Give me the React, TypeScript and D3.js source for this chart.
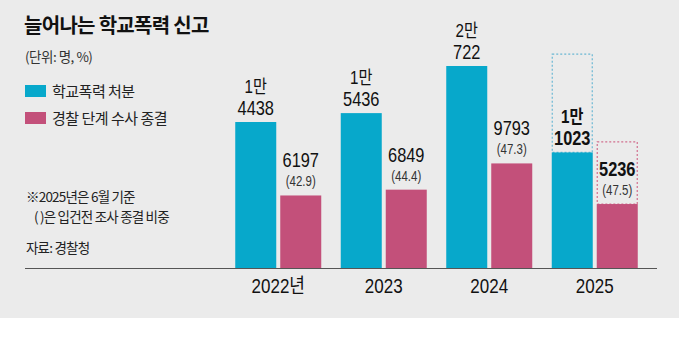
import React from "react";
import * as d3 from "d3";

const years = ["2022년", "2023", "2024", "2025"];
const manLabels = ["1만", "1만", "2만", "1만"];
const restLabels = ["4438", "5436", "722", "1023"];
const disposals = [14438, 15436, 20722, 11023];
const closures = [6197, 6849, 9793, 5236];
const closureLabels = ["6197", "6849", "9793", "5236"];
const ratios = ["(42.9)", "(44.4)", "(47.3)", "(47.5)"];
const projDisposal = 22046;
const projClosure = 12200;

const W = 681;
const H = 351;
const TEAL = "#07a8cb";
const PINK = "#c3507a";
const FONT = "'Noto Sans CJK KR', 'Noto Sans', sans-serif";
const NUMFONT = "'Liberation Sans', 'Noto Sans CJK KR', sans-serif";

function NText(props: { x: number; y: number; size: number; weight?: number; fill?: string; sx?: number; children: React.ReactNode }) {
  const { x, y, size, weight = 400, fill = "#111", sx = 0.82, children } = props;
  return (
    <text transform={`translate(${x},${y}) scale(${sx},1)`} textAnchor="middle" fontFamily={NUMFONT} fontSize={size} fontWeight={weight} fill={fill}>
      {children}
    </text>
  );
}

export default function App() {
  const x = d3.scaleBand<string>().domain(years).range([225.5, 647.5]).paddingInner(0.0).paddingOuter(0);
  const y = d3.scaleLinear().domain([-1940, 20722]).range([268, 66]);
  const bw = 41;
  const gap = 4;
  const step = x.bandwidth();
  const groupW = bw * 2 + gap;
  const off = (step - groupW) / 2;

  return (
    <svg width={W} height={H} style={{ position: "absolute", left: 0, top: 0, display: "block" }} fontFamily={FONT}>
      <rect x={0} y={0} width={679} height={318} fill="#ebebeb" />
      <rect x={679} y={0} width={2} height={H} fill="#fff" />
      <rect x={0} y={318} width={W} height={H - 318} fill="#fff" />

      <text x={24} y={33} fontSize={20} fontWeight={700} fill="#111" letterSpacing={-0.7}>늘어나는 학교폭력 신고</text>
      <text x={25} y={62} fontSize={13.5} fill="#333" letterSpacing={-0.5}>(단위: 명, %)</text>

      <rect x={25} y={85} width={21} height={12} fill={TEAL} />
      <text x={52} y={97} fontSize={15} fill="#222" letterSpacing={-0.5}>학교폭력 처분</text>
      <rect x={25} y={112} width={21} height={12} fill={PINK} />
      <text x={52} y={124} fontSize={15} fill="#222" letterSpacing={-0.5}>경찰 단계 수사 종결</text>

      <text x={26} y={202} fontSize={13.5} fill="#222" letterSpacing={-0.8}>※2025년은 6월 기준</text>
      <text x={34} y={222} fontSize={13.5} fill="#222" letterSpacing={-0.8}>( )은 입건전 조사 종결 비중</text>
      <text x={26} y={253} fontSize={13.5} fill="#222" letterSpacing={-0.8}>자료: 경찰청</text>

      {years.map((yr, i) => {
        const gx = (x(yr) as number) + off;
        const tx = gx;
        const px = gx + bw + gap;
        const isLast = i === years.length - 1;
        const tTop = y(disposals[i]);
        const pTop = y(closures[i]);
        const fw = isLast ? 700 : 400;
        return (
          <g key={yr}>
            {isLast && (
              <>
                <rect x={tx + 0.5} y={y(projDisposal)} width={bw - 1} height={tTop - y(projDisposal)} fill="none" stroke="#6bb8d4" strokeWidth={1.2} strokeDasharray="2,2" />
                <rect x={px + 0.5} y={y(projClosure)} width={bw - 1} height={pTop - y(projClosure)} fill="none" stroke="#d2708f" strokeWidth={1.2} strokeDasharray="2,2" />
              </>
            )}
            <rect x={tx} y={tTop} width={bw} height={268 - tTop} fill={TEAL} />
            <rect x={px} y={pTop} width={bw} height={268 - pTop} fill={PINK} />
            <NText x={tx + bw / 2} y={tTop - 29.5} size={18.5} weight={fw}>{manLabels[i]}</NText>
            <NText x={tx + bw / 2} y={tTop - 7} size={20} weight={fw}>{restLabels[i]}</NText>
            <NText x={px + bw / 2} y={pTop - 28} size={20} weight={fw}>{closureLabels[i]}</NText>
            <NText x={px + bw / 2} y={pTop - 9} size={14} fill="#333">{ratios[i]}</NText>
            <NText x={gx + groupW / 2} y={293} size={20} sx={0.85}>{yr}</NText>
          </g>
        );
      })}
      <line x1={25} x2={657} y1={268.5} y2={268.5} stroke="#555" strokeWidth={1} />
    </svg>
  );
}
